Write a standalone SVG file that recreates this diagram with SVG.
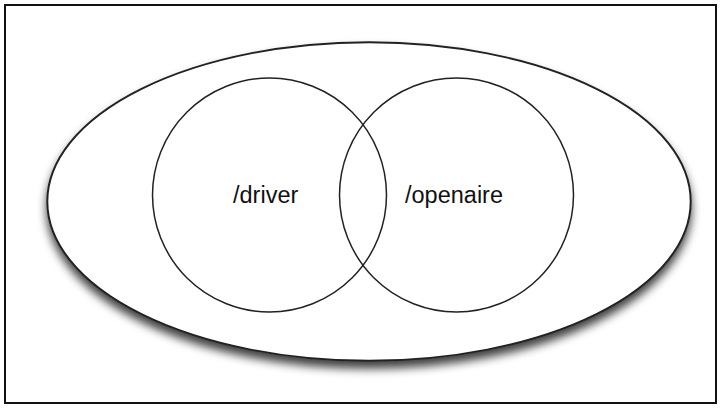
<svg xmlns="http://www.w3.org/2000/svg" width="721" height="408" viewBox="0 0 721 408">
  <defs>
    <filter id="shadow" x="-10%" y="-10%" width="120%" height="130%">
      <feDropShadow dx="0" dy="7" stdDeviation="5" flood-color="#000" flood-opacity="0.75"/>
    </filter>
  </defs>
  <style>
    .frame { fill: #fff; stroke: #111; stroke-width: 2; }
    .outer { fill: #fff; stroke: #222; stroke-width: 2; }
    .set { fill: none; stroke: #222; stroke-width: 1.5; }
    .label { font-family: "Liberation Sans", Arial, sans-serif; font-size: 23.5px; fill: #111; }
  </style>
  <rect class="frame" x="5" y="5" width="711" height="398"/>
  <g id="root">
    <ellipse class="outer" cx="369" cy="201.5" rx="321.7" ry="159.3" filter="url(#shadow)"/>
  </g>
  <g id="driver">
    <circle class="set" cx="269.5" cy="195" r="117"/>
    <text class="label" x="233" y="203">/driver</text>
  </g>
  <g id="openaire">
    <circle class="set" cx="456.5" cy="195" r="117"/>
    <text class="label" x="405" y="203">/openaire</text>
  </g>
  <g id="connectors"/>
</svg>
